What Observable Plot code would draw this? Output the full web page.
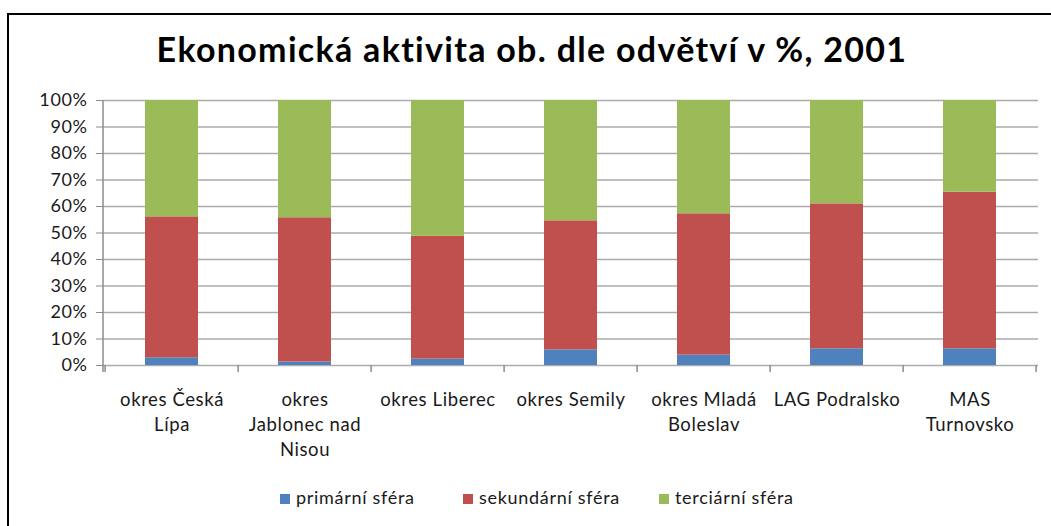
<!DOCTYPE html>
<html>
<head>
<meta charset="utf-8">
<script src="https://cdn.jsdelivr.net/npm/d3@7"></script>
<script src="https://cdn.jsdelivr.net/npm/@observablehq/plot@0.6"></script>
<style>
  html, body { margin: 0; padding: 0; background: #fff; }
  #root { position: relative; width: 1051px; height: 526px; overflow: hidden; font-family: Lato, "Open Sans", sans-serif; }
  #frame { position: absolute; left: 7px; top: 13px; width: 1100px; height: 600px; border-top: 2px solid #000; border-left: 2px solid #000; box-sizing: border-box; }
  #title { position: absolute; left: 0; width: 1064px; top: 28px; text-align: center; font-weight: 700; font-size: 34px; letter-spacing: 1.3px; color: #000; white-space: nowrap; }
  #chart { position: absolute; left: 0; top: 0; }
  #legend { position: absolute; top: 485px; left: 0; width: 1051px; height: 24px; font-size: 18px; letter-spacing: 0.7px; color: #1a1a1a; }
  .item { position: absolute; top: 0; white-space: nowrap; line-height: 24px; }
  .sw { display: inline-block; width: 10px; height: 10px; margin-right: 6px; vertical-align: 0px; }
</style>
</head>
<body>
<div id="root">
  <div id="frame"></div>
  <div id="chart"></div>
  <div id="title"></div>
  <div id="legend"></div>
</div>
<script>
const title = "Ekonomická aktivita ob. dle odvětví v %, 2001";
const categories = ["okres Česká Lípa", "okres Jablonec nad Nisou", "okres Liberec", "okres Semily", "okres Mladá Boleslav", "LAG Podralsko", "MAS Turnovsko"];
const tickLabels = ["okres Česká\nLípa", "okres\nJablonec nad\nNisou", "okres Liberec", "okres Semily", "okres Mladá\nBoleslav", "LAG Podralsko", "MAS\nTurnovsko"];
const seriesNames = ["primární sféra", "sekundární sféra", "terciární sféra"];
const seriesColors = ["#4F81BD", "#C0504D", "#9BBB59"];
const primary   = [2.9, 1.3, 2.4, 5.9, 3.9, 6.3, 6.3];
const secondary = [53.2, 54.45, 46.35, 48.7, 53.35, 54.7, 59.1];
const tertiary  = [43.9, 44.25, 51.25, 45.4, 42.75, 39.0, 34.6];
const yTicks = [0, 10, 20, 30, 40, 50, 60, 70, 80, 90, 100];

const seriesValues = [primary, secondary, tertiary];
const rows = [];
categories.forEach((c, i) => {
  seriesNames.forEach((s, j) => rows.push({cat: c, series: s, value: seriesValues[j][i]}));
});
const labelOf = new Map(categories.map((c, i) => [c, tickLabels[i]]));

document.getElementById("title").textContent = title;

const W = 1051, H = 526, ML = 103, MR = 13, MT = 100, MB = 161;
const plot = Plot.plot({
  width: W, height: H,
  marginLeft: ML, marginRight: MR, marginTop: MT, marginBottom: MB,
  style: {fontFamily: "Lato, 'Open Sans', sans-serif", background: "transparent", overflow: "visible"},
  x: {domain: categories, paddingInner: 0.6, paddingOuter: 0.3, label: null},
  y: {domain: [0, 100], label: null},
  color: {domain: seriesNames, range: seriesColors},
  marks: [
    Plot.ruleY(yTicks, {stroke: "#ababab", strokeWidth: 1.5}),
    Plot.barY(rows, Plot.stackY({x: "cat", y: "value", fill: "series", order: seriesNames})),
    Plot.axisY({ticks: yTicks, tickFormat: d => d + "%", tickSize: 7, tickPadding: 9, fontSize: 18, stroke: "#8c8c8c", fill: "#1a1a1a", label: null}),
    Plot.axisX({tickSize: 0, tickPadding: 23, fontSize: 18.5, lineHeight: 25/18.5, tickFormat: d => labelOf.get(d), fill: "#1a1a1a", label: null})
  ]
});
document.getElementById("chart").appendChild(plot);

const svg = d3.select(plot);
svg.selectAll("[aria-label='x-axis tick label'] text, [aria-label='y-axis tick label'] text").style("letter-spacing", "0.6px");

// axis line and category separator ticks
const xs = plot.scale("x");
const y0 = H - MB;
svg.append("line").attr("x1", ML).attr("x2", ML).attr("y1", MT).attr("y2", y0 + 7)
  .attr("stroke", "#8c8c8c").attr("stroke-width", 1.5);
const step = xs.step;
const start = xs.apply(categories[0]) - step * 0.3;
for (let k = 0; k <= categories.length; k++) {
  const x = start + k * step;
  svg.append("line").attr("x1", x).attr("x2", x).attr("y1", y0).attr("y2", y0 + 7)
    .attr("stroke", "#8c8c8c").attr("stroke-width", 1.5);
}

// legend
const legendX = [280, 463, 659];
const lg = document.getElementById("legend");
seriesNames.forEach((s, j) => {
  const it = document.createElement("div");
  it.className = "item";
  it.style.left = legendX[j] + "px";
  const sw = document.createElement("span");
  sw.className = "sw";
  sw.style.background = seriesColors[j];
  it.appendChild(sw);
  it.appendChild(document.createTextNode(s));
  lg.appendChild(it);
});
</script>
</body>
</html>
